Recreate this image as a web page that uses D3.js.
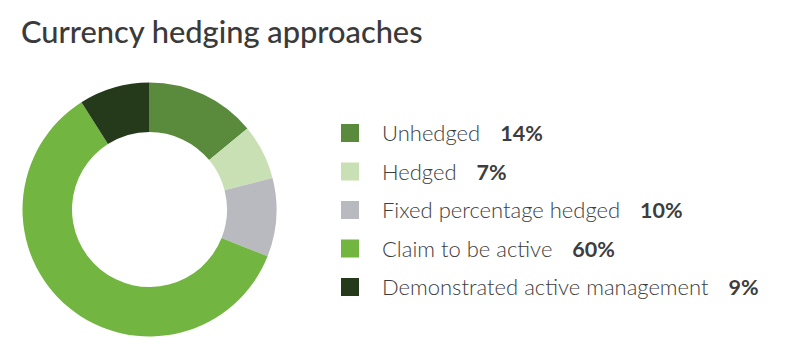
<!DOCTYPE html>
<html><head><meta charset="utf-8">
<script src="https://cdn.jsdelivr.net/npm/d3@7"></script>
<style>body{margin:0;background:#fff;}</style>
</head><body>
<svg id="c" width="800" height="362"></svg>
<script>
const categories = ["Unhedged","Hedged","Fixed percentage hedged","Claim to be active","Demonstrated active management"];
const values = [14, 7, 10, 60, 9];
const valueLabels = ["14%","7%","10%","60%","9%"];
const colors = ["#5a8a3c","#c9e0b5","#b9babf","#72b541","#243a1a"];

const svg = d3.select("#c");
svg.append("text").attr("x",21).attr("y",43)
  .attr("font-family","Lato").attr("font-weight",500).attr("font-size",30.8)
  .attr("fill","#3a3a3a").text("Currency hedging approaches");

const cx=149.5, cy=209.5, rO=127, rI=77.5;
const pie = d3.pie().sort(null).value(d=>d)(values);
const arc = d3.arc().innerRadius(rI).outerRadius(rO);
const g = svg.append("g").attr("transform",`translate(${cx},${cy})`);
g.selectAll("path").data(pie).join("path").attr("d",arc).attr("fill",(d,i)=>colors[i]);

const y = d3.scalePoint().domain(categories).range([133,287]);
const leg = svg.append("g");
categories.forEach((c,i)=>{
  const yy = y(c);
  leg.append("rect").attr("x",341).attr("y",yy-9).attr("width",18).attr("height",18).attr("fill",colors[i]);
  const t = leg.append("text").attr("x",382).attr("y",yy+8)
    .attr("font-family","Lato").attr("font-size",22).attr("font-weight",300).attr("fill","#3d3d3d").text(c);
  const w = t.node().getComputedTextLength();
  leg.append("text").attr("x",382+w+20).attr("y",yy+8)
    .attr("font-family","Lato").attr("font-size",21.5).attr("font-weight",700).attr("fill","#3d3d3d").text(valueLabels[i]);
});
</script>
</body></html>
